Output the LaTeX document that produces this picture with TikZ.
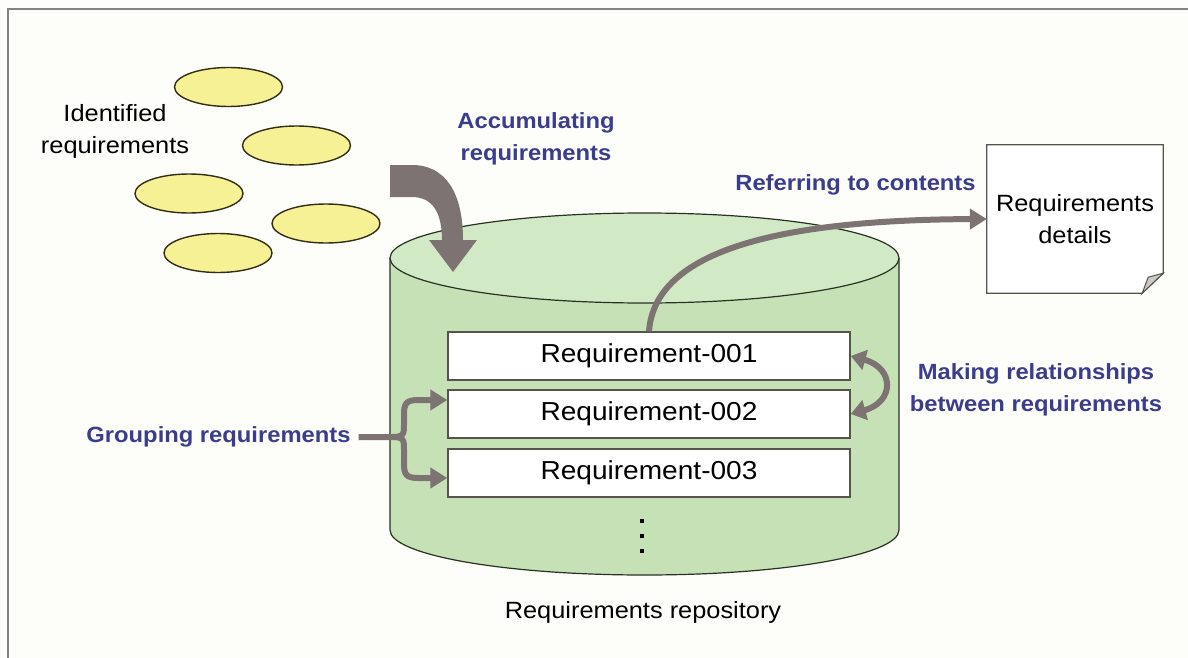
\documentclass[tikz,border=0pt]{standalone}
\usepackage{fontspec}
\setmainfont{Liberation Sans}[FakeStretch=1.08]
\usetikzlibrary{arrows.meta,shapes.geometric}

\definecolor{paper}{RGB}{253,253,250}
\definecolor{framegray}{RGB}{130,130,130}
\definecolor{itemfill}{RGB}{247,241,150}
\definecolor{itemline}{RGB}{50,45,20}
\definecolor{bodygreen}{RGB}{198,225,182}
\definecolor{topgreen}{RGB}{210,233,198}
\definecolor{cylline}{RGB}{40,50,35}
\definecolor{flowgray}{RGB}{125,115,115}
\definecolor{labelblue}{RGB}{58,60,140}
\definecolor{boxline}{RGB}{85,85,75}
\definecolor{curlgray}{RGB}{205,200,200}

\begin{document}
\begin{tikzpicture}[x=1pt,y=-1pt,
  item/.style={ellipse, draw=itemline, fill=itemfill, line width=1.4pt,
    minimum width=108pt, minimum height=39pt, inner sep=0pt},
  plain/.style={text=black, align=center, inner sep=0pt,
    font=\fontsize{23.5}{32}\selectfont},
  action/.style={text=labelblue, align=center, inner sep=0pt,
    font=\bfseries\fontsize{22}{32}\selectfont},
  entry/.style={draw=boxline, fill=white, line width=1.4pt,
    minimum width=402pt, minimum height=48pt, inner sep=0pt,
    font=\fontsize{26}{30}\selectfont},
  flow/.style={draw=flowgray, line width=6pt},
  tip/.style={-{Triangle[width=20pt,length=17pt]}},
]
\useasboundingbox (0,0) rectangle (1188,658);
\fill[paper] (0,0) rectangle (1188,658);
\draw[framegray, line width=1.3pt] (8,658) -- (8,9) -- (1188,9);

% loose requirements
\node[item] (e1) at (228.5,87) {};
\node[item] (e2) at (296.5,145.5) {};
\node[item] (e3) at (189,193.5) {};
\node[item] (e4) at (326,223.5) {};
\node[item] (e5) at (218,253) {};
\node[plain] (ident) at (115,131) {Identified\\requirements};

% repository cylinder
\fill[bodygreen] (390,258) -- (390,530)
  arc[start angle=180, end angle=360, x radius=254.5pt, y radius=45pt]
  -- (899,258) -- cycle;
\draw[cylline, line width=1.2pt] (390,258) -- (390,530)
  arc[start angle=180, end angle=360, x radius=254.5pt, y radius=45pt]
  -- (899,258);
\draw[cylline, line width=1.2pt, fill=topgreen] (644.5,258)
  ellipse[x radius=254.5pt, y radius=45pt];

% bent block arrow into the repository
\fill[flowgray] (390,165) -- (412,165)
  .. controls (445,165) and (463,192) .. (463,240)
  -- (477,240) -- (453,272) -- (429,240) -- (442,240)
  .. controls (442,212) and (432,197) .. (412,197)
  -- (390,197) -- cycle;
\node[action] (accum) at (536,139) {Accumulating\\requirements};

% stored requirements
\node[entry] (r1) at (649,356) {Requirement-001};
\node[entry] (r2) at (649,414) {Requirement-002};
\node[entry] (r3) at (649,473) {Requirement-003};
\foreach \yy in {521,536,551} \fill[black] (640,\yy-2) rectangle (644,\yy+2);
\node[plain] (repo) at (643,612) {Requirements repository};

% requirements details document
\node[minimum width=176pt, minimum height=148pt, inner sep=0pt] (doc) at (1075,219) {};
\draw[boxline, line width=1.3pt, fill=white] (doc.north west) -- (doc.north east)
  -- ([yshift=20pt]doc.south east) -- ([xshift=-21pt]doc.south east)
  -- (doc.south west) -- cycle;
\draw[boxline, line width=1pt, fill=curlgray] ([yshift=20pt]doc.south east)
  -- ([xshift=-15pt,yshift=16pt]doc.south east)
  -- ([xshift=-21pt]doc.south east) -- cycle;
\node[plain] (doctext) at (doc.center) {Requirements\\details};

% referring to contents
\draw[flow, tip] (r1.north) .. controls (655,250) and (780,220) .. (doc.west);
\node[action] (refer) at (855.5,184.5) {Referring to contents};

% relationships between requirements
\draw[flow, {Triangle[width=20pt,length=15pt]}-{Triangle[width=20pt,length=15pt]}]
  (r1.east) .. controls +(44,12) and +(44,-12) .. (r2.east);
\node[action] (relate) at (1036,390) {Making relationships\\between requirements};

% grouping requirements
\node[action, inner xsep=8pt] (group) at (218.5,437) {Grouping requirements};
\coordinate (gj) at (392,437);
\draw[flow, tip] (group.east) -- (gj)
  .. controls +(12,0) and +(0,10) .. (404,424) -- (404,414)
  .. controls +(0,-10) and +(-12,0) .. (418,400)
  -- ([yshift=14pt]r2.west);
\draw[flow, tip] (gj)
  .. controls +(12,0) and +(0,-10) .. (404,450) -- (404,464)
  .. controls +(0,10) and +(-12,0) .. (418,478)
  -- ([yshift=-5pt]r3.west);
\end{tikzpicture}
\end{document}
